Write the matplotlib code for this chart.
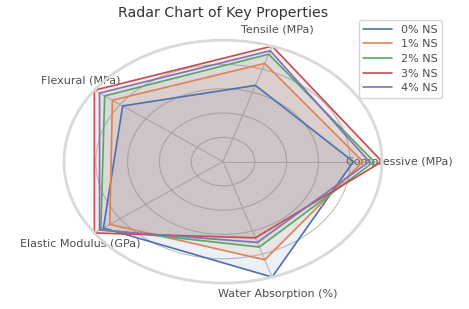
import numpy as np
import matplotlib.pyplot as plt
import seaborn as sns

sns.set_style('whitegrid')
plt.rcParams['font.family'] = ['DejaVu Sans']

# Normalized property values (fraction of the maximum)
categories = ['Compressive (MPa)', 'Tensile (MPa)', 'Flexural (MPa)',
              'Elastic Modulus (GPa)', 'Water Absorption (%)']
labels = ['0% NS', '1% NS', '2% NS', '3% NS', '4% NS']
ns0 = [0.82, 0.66, 0.78, 0.93, 1.00]
ns1 = [0.88, 0.85, 0.86, 0.88, 0.85]
ns2 = [0.95, 0.93, 0.92, 0.95, 0.74]
ns3 = [1.00, 1.00, 1.00, 1.00, 0.66]
ns4 = [0.92, 0.96, 0.96, 0.96, 0.70]
series = [ns0, ns1, ns2, ns3, ns4]
colors = sns.color_palette('deep', 5)

angles = np.linspace(0, 2 * np.pi, len(categories), endpoint=False).tolist()
angles += angles[:1]

fig = plt.figure(figsize=(4.69, 3.09), dpi=100)
ax = fig.add_axes([0.1365, 0.084, 0.678, 0.786], polar=True)
ax.set_aspect('auto')

for vals, lab, c in zip(series, labels, colors):
    v = vals + vals[:1]
    ax.plot(angles, v, color=c, linewidth=1.2, label=lab)
    ax.fill(angles, v, color=c, alpha=0.1)

ax.set_ylim(0, 1.0)
ax.set_yticks([0.2, 0.4, 0.6, 0.8, 1.0])
ax.set_yticklabels([])
ax.set_xticks(angles[:-1])
ax.set_xticklabels(categories, fontsize=8, color='.3')
ax.tick_params(axis='x', pad=2)
ax.grid(color='.75', linewidth=0.8)
ax.spines['polar'].set_color('.85')
ax.spines['polar'].set_linewidth(2)

ax.set_title('Radar Chart of Key Properties', fontsize=10.2, color='.2', y=1.06)
ax.legend(loc='upper right', bbox_to_anchor=(0.955, 0.953),
          bbox_transform=fig.transFigure, fontsize=8, labelcolor='.3',
          handlelength=2.6, borderpad=0.4, labelspacing=0.42)

plt.savefig('out.png', dpi=100)
